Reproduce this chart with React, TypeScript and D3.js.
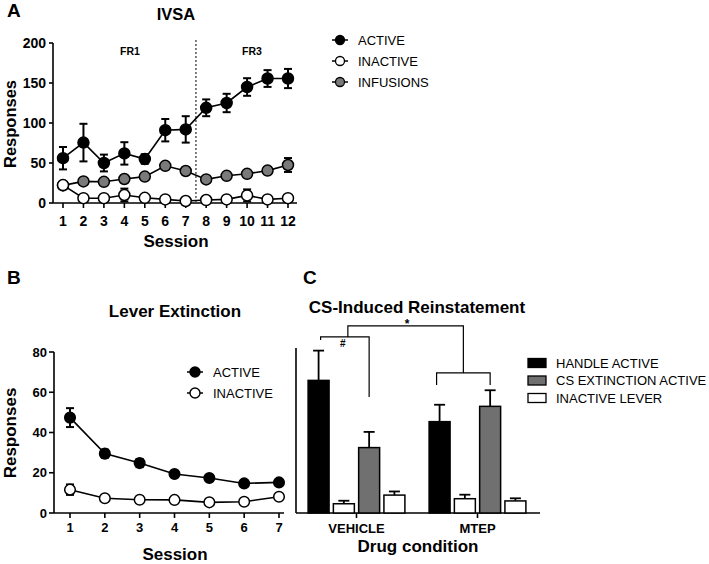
import * as d3 from 'd3';

const FONT = '"Liberation Sans", Arial, Helvetica, sans-serif';

// Panel A: IVSA
const ivsaSessions = [1, 2, 3, 4, 5, 6, 7, 8, 9, 10, 11, 12];
const ivsaActive = [56, 75.5, 50, 62, 55, 91, 92, 119, 125, 145, 155.6, 155.6];
const ivsaActiveErr = [14, 23.5, 10.5, 14, 6, 14, 16.5, 10.5, 11.5, 11, 10.5, 12];
const ivsaInfusions = [22, 27, 26.5, 30, 33, 46.5, 40, 29.5, 34, 36.5, 40.5, 47.5];
const ivsaInfusionsErr = [2, 3, 3, 3, 3, 3, 3, 2, 3, 3, 3, 8.7];
const ivsaInactive = [22.4, 6, 6, 10, 6.5, 4.5, 2.5, 3.7, 4.5, 9.5, 4.5, 6];
const ivsaInactiveErr = [2, 1, 1, 8, 1, 1, 1, 1, 1, 7.5, 1, 1];
const ivsaTicks = [0, 50, 100, 150, 200];

// Panel B: lever extinction
const extSessions = [1, 2, 3, 4, 5, 6, 7];
const extActive = [47.4, 29.5, 24.8, 19.4, 17.4, 14.7, 15.2];
const extActiveErr = [4.7, 2, 2, 1.5, 1.5, 1.5, 1.5];
const extInactive = [11.6, 7.3, 6.6, 6.5, 5.3, 5.6, 8.1];
const extInactiveErr = [2.6, 0.8, 0.8, 0.8, 0.8, 0.8, 0.8];
const extTicks = [0, 20, 40, 60, 80];

// Panel C: CS-induced reinstatement
const conditions = ['VEHICLE', 'MTEP'];
const barSeries = ['handle', 'handleInactive', 'cs', 'csInactive'];
const barValues = [
  [65.9, 4.6, 32.5, 8.9],
  [45.4, 7.1, 53.0, 6.0],
];
const barErrors = [
  [14.8, 1.5, 7.8, 1.8],
  [8.4, 2.0, 8.0, 1.3],
];
const barFill: Record<string, string> = {
  handle: '#000000',
  handleInactive: '#ffffff',
  cs: '#707070',
  csInactive: '#ffffff',
};
const barLegend = [
  { label: 'HANDLE ACTIVE', fill: '#000000' },
  { label: 'CS EXTINCTION ACTIVE', fill: '#707070' },
  { label: 'INACTIVE LEVER', fill: '#ffffff' },
];

type SeriesProps = {
  x: (v: number) => number;
  y: d3.ScaleLinear<number, number>;
  xs: number[];
  vals: number[];
  errs: number[];
  fill: string;
  r: number;
};

function Series({ x, y, xs, vals, errs, fill, r }: SeriesProps) {
  const pts = xs.map((s, i) => [x(s), y(vals[i])] as [number, number]);
  const line = d3.line()(pts) || '';
  return (
    <g>
      <path d={line} fill="none" stroke="#000" strokeWidth={1.6} />
      {xs.map((s, i) => {
        const cx = x(s);
        const y1 = y(vals[i] + errs[i]);
        const y2 = y(Math.max(0, vals[i] - errs[i]));
        return (
          <g key={'e' + i} stroke="#000" strokeWidth={2}>
            <line x1={cx} x2={cx} y1={y1} y2={y2} />
            <line x1={cx - 4} x2={cx + 4} y1={y1} y2={y1} />
            <line x1={cx - 4} x2={cx + 4} y1={y2} y2={y2} />
          </g>
        );
      })}
      {pts.map((p, i) => (
        <circle key={'c' + i} cx={p[0]} cy={p[1]} r={r} fill={fill} stroke="#000" strokeWidth={1.5} />
      ))}
    </g>
  );
}

export default function App() {
  // ---------- Panel A ----------
  const xA = d3.scaleLinear().domain([1, 12]).range([63, 288]);
  const yA = d3.scaleLinear().domain([0, 200]).range([203, 43]);
  const axisAx = [53, 297];

  // ---------- Panel B ----------
  const xB = d3.scaleLinear().domain([1, 7]).range([70, 279]);
  const yB = d3.scaleLinear().domain([0, 80]).range([513, 352]);
  const axisBx = [54, 284];

  // ---------- Panel C ----------
  const xC = d3.scaleBand().domain(conditions).range([296, 538]).paddingInner(0.2).paddingOuter(0.1);
  const xCi = d3.scaleBand().domain(barSeries).range([0, xC.bandwidth()]).paddingInner(0.17).paddingOuter(0);
  const yC = d3.scaleLinear().domain([0, 82]).range([513, 348]);
  const barCenter = (c: string, s: string) => (xC(c) || 0) + (xCi(s) || 0) + xCi.bandwidth() / 2;

  // significance brackets (in data units of the C scale)
  const hashY = 87.5;
  const starY = 93;
  const mtepY = 69.6;
  const hashL = barCenter('VEHICLE', 'handle') + 2;
  const hashR = barCenter('VEHICLE', 'cs');
  const mtepL = barCenter('MTEP', 'handle') - 3;
  const mtepR = barCenter('MTEP', 'cs');
  const starL = (hashL + hashR) / 2 + 3;
  const starR = (mtepL + mtepR) / 2;

  const bold = { fontFamily: FONT, fontWeight: 'bold' as const };

  return (
    <svg
      width={709}
      height={564}
      style={{ position: 'absolute', left: 0, top: 0, background: '#fff' }}
      fontFamily={FONT}
    >
      <rect width={709} height={564} fill="#fff" />

      {/* ===== Panel A ===== */}
      <text x={7} y={17} fontSize={19} {...bold}>A</text>
      <text x={176} y={20} fontSize={16.5} textAnchor="middle" {...bold}>IVSA</text>
      <text x={130} y={55} fontSize={10.5} textAnchor="middle" {...bold}>FR1</text>
      <text x={252} y={55} fontSize={10.5} textAnchor="middle" {...bold}>FR3</text>

      <g stroke="#000" strokeWidth={1.6}>
        <line x1={axisAx[0]} x2={axisAx[0]} y1={yA(200)} y2={yA(0)} />
        <line x1={axisAx[0]} x2={axisAx[1]} y1={yA(0)} y2={yA(0)} />
        {ivsaTicks.map((t) => (
          <line key={t} x1={axisAx[0] - 4} x2={axisAx[0]} y1={yA(t)} y2={yA(t)} />
        ))}
        {ivsaSessions.map((s) => (
          <line key={s} x1={xA(s)} x2={xA(s)} y1={yA(0)} y2={yA(0) + 5} />
        ))}
      </g>
      {ivsaTicks.map((t) => (
        <text key={t} x={axisAx[0] - 7} y={yA(t)} dy="0.36em" fontSize={14} textAnchor="end" {...bold}>
          {t}
        </text>
      ))}
      {ivsaSessions.map((s) => (
        <text key={s} x={xA(s)} y={226} fontSize={14} textAnchor="middle" {...bold}>
          {s}
        </text>
      ))}
      <line
        x1={(xA(7) + xA(8)) / 2}
        x2={(xA(7) + xA(8)) / 2}
        y1={yA(200) - 3}
        y2={yA(0)}
        stroke="#000"
        strokeWidth={1}
        strokeDasharray="2,2"
      />
      <text transform={`translate(15.5,124) rotate(-90)`} fontSize={16.5} textAnchor="middle" {...bold}>
        Responses
      </text>
      <text x={176} y={247} fontSize={17} textAnchor="middle" {...bold}>Session</text>

      <Series x={xA} y={yA} xs={ivsaSessions} vals={ivsaActive} errs={ivsaActiveErr} fill="#000" r={5.5} />
      <Series x={xA} y={yA} xs={ivsaSessions} vals={ivsaInfusions} errs={ivsaInfusionsErr} fill="#7a7a7a" r={5.5} />
      <Series x={xA} y={yA} xs={ivsaSessions} vals={ivsaInactive} errs={ivsaInactiveErr} fill="#fff" r={5.5} />

      {/* legend A */}
      {[
        { label: 'ACTIVE', fill: '#000' },
        { label: 'INACTIVE', fill: '#fff' },
        { label: 'INFUSIONS', fill: '#7a7a7a' },
      ].map((d, i) => {
        const cy = 40 + i * 21;
        return (
          <g key={d.label}>
            <line x1={332} x2={348} y1={cy} y2={cy} stroke="#000" strokeWidth={1.5} />
            <circle cx={340} cy={cy} r={4.5} fill={d.fill} stroke="#000" strokeWidth={1.3} />
            <text x={358} y={cy} dy="0.36em" fontSize={13} fontFamily={FONT}>
              {d.label}
            </text>
          </g>
        );
      })}

      {/* ===== Panel B ===== */}
      <text x={7} y={284} fontSize={19} {...bold}>B</text>
      <text x={175} y={317} fontSize={17} textAnchor="middle" {...bold}>Lever Extinction</text>
      <g stroke="#000" strokeWidth={1.6}>
        <line x1={axisBx[0]} x2={axisBx[0]} y1={yB(80)} y2={yB(0)} />
        <line x1={axisBx[0]} x2={axisBx[1]} y1={yB(0)} y2={yB(0)} />
        {extTicks.map((t) => (
          <line key={t} x1={axisBx[0] - 5} x2={axisBx[0]} y1={yB(t)} y2={yB(t)} />
        ))}
        {extSessions.map((s) => (
          <line key={s} x1={xB(s)} x2={xB(s)} y1={yB(0)} y2={yB(0) + 5} />
        ))}
      </g>
      {extTicks.map((t) => (
        <text key={t} x={axisBx[0] - 7} y={yB(t)} dy="0.36em" fontSize={13} textAnchor="end" {...bold}>
          {t}
        </text>
      ))}
      {extSessions.map((s) => (
        <text key={s} x={xB(s)} y={532} fontSize={13} textAnchor="middle" {...bold}>
          {s}
        </text>
      ))}
      <text transform={`translate(15.5,433) rotate(-90)`} fontSize={17} textAnchor="middle" {...bold}>
        Responses
      </text>
      <text x={175} y={560} fontSize={17} textAnchor="middle" {...bold}>Session</text>

      <Series x={xB} y={yB} xs={extSessions} vals={extActive} errs={extActiveErr} fill="#000" r={5.3} />
      <Series x={xB} y={yB} xs={extSessions} vals={extInactive} errs={extInactiveErr} fill="#fff" r={5.3} />

      {[
        { label: 'ACTIVE', fill: '#000' },
        { label: 'INACTIVE', fill: '#fff' },
      ].map((d, i) => {
        const cy = 372 + i * 21;
        return (
          <g key={d.label}>
            <line x1={187} x2={203} y1={cy} y2={cy} stroke="#000" strokeWidth={1.5} />
            <circle cx={195} cy={cy} r={5} fill={d.fill} stroke="#000" strokeWidth={1.4} />
            <text x={213} y={cy} dy="0.36em" fontSize={13} fontFamily={FONT}>
              {d.label}
            </text>
          </g>
        );
      })}

      {/* ===== Panel C ===== */}
      <text x={303} y={284} fontSize={19} {...bold}>C</text>
      <text x={417} y={313} fontSize={17} textAnchor="middle" {...bold}>CS-Induced Reinstatement</text>
      <g stroke="#000" strokeWidth={1.6}>
        <line x1={296} x2={296} y1={yC(82)} y2={yC(0)} />
        <line x1={296} x2={540} y1={yC(0)} y2={yC(0)} />
        {conditions.map((c) => {
          const cx = (xC(c) || 0) + xC.bandwidth() / 2;
          return <line key={c} x1={cx} x2={cx} y1={yC(0)} y2={yC(0) + 5} />;
        })}
      </g>
      {conditions.map((c, ci) => (
        <g key={c}>
          {barSeries.map((s, si) => {
            const bx = (xC(c) || 0) + (xCi(s) || 0);
            const w = xCi.bandwidth();
            const v = barValues[ci][si];
            const e = barErrors[ci][si];
            const cx = bx + w / 2;
            return (
              <g key={s}>
                <line x1={cx} x2={cx} y1={yC(v)} y2={yC(v + e)} stroke="#000" strokeWidth={1.8} />
                <line x1={cx - 5.5} x2={cx + 5.5} y1={yC(v + e)} y2={yC(v + e)} stroke="#000" strokeWidth={1.8} />
                <rect
                  x={bx}
                  y={yC(v)}
                  width={w}
                  height={yC(0) - yC(v)}
                  fill={barFill[s]}
                  stroke="#000"
                  strokeWidth={1.5}
                />
              </g>
            );
          })}
          <text
            x={(xC(c) || 0) + xC.bandwidth() / 2}
            y={533}
            fontSize={13}
            textAnchor="middle"
            {...bold}
          >
            {c}
          </text>
        </g>
      ))}
      <text x={418} y={552} fontSize={17} textAnchor="middle" {...bold}>Drug condition</text>

      {/* brackets */}
      <g stroke="#000" strokeWidth={1.2} fill="none">
        <path d={`M${hashL},${yC(hashY) + 3}V${yC(hashY)}H${hashR}V${yC(57.7)}`} />
        <path d={`M${starL},${yC(hashY)}V${yC(starY)}H${starR}V${yC(mtepY)}`} />
        <path d={`M${mtepL},${yC(63.6)}V${yC(mtepY)}H${mtepR}V${yC(63.6)}`} />
      </g>
      <text x={(hashL + hashR) / 2 - 2} y={yC(hashY) + 10} fontSize={10} textAnchor="middle" {...bold}>#</text>
      <text x={407} y={yC(starY) + 2} fontSize={12} textAnchor="middle" {...bold}>*</text>

      {barLegend.map((d, i) => {
        const cy = 363 + i * 17.5;
        return (
          <g key={d.label}>
            <rect x={528} y={cy - 4.5} width={18} height={9} fill={d.fill} stroke="#000" strokeWidth={1.3} />
            <text x={556} y={cy} dy="0.36em" fontSize={13} fontFamily={FONT}>
              {d.label}
            </text>
          </g>
        );
      })}
    </svg>
  );
}
